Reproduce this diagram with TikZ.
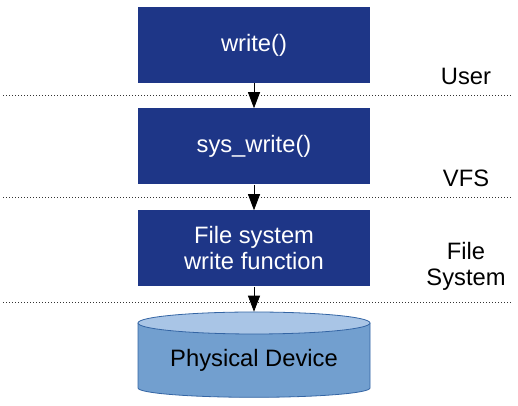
\documentclass[tikz,border=0pt]{standalone}
\usepackage{fontspec}
\setmainfont{Liberation Sans}
\usetikzlibrary{arrows.meta}
\definecolor{boxblue}{RGB}{30,54,135}
\definecolor{devbody}{RGB}{114,159,207}
\definecolor{devtop}{RGB}{169,197,230}
\definecolor{devline}{RGB}{52,101,164}
\tikzset{
  blkbox/.style={fill=boxblue,text=white,minimum width=174pt,minimum height=57pt,align=center,inner sep=0pt},
  layer/.style={black!80,line width=0.7pt,dash pattern=on 1pt off 1.25pt},
  lbl/.style={align=center,inner sep=0pt},
  flow/.style={-{Triangle[length=12pt,width=9pt]},line width=0.6pt}
}
\begin{document}
\begin{tikzpicture}[x=0.75pt,y=0.75pt,font=\fontsize{17.8}{19.5}\selectfont]
\useasboundingbox (0,0) rectangle (518,406);

\node[blkbox] (wr) at (254,361) {write()};
\node[blkbox] (sys) at (254,259.5) {sys\_write()};
\node[blkbox] (fsw) at (254,157.5) {File system\\write function};

% physical device
\fill[devbody] (138,83) -- (138,18) arc (180:360:87pt and 7pt) -- (370,83) -- cycle;
\draw[devline,line width=0.6pt] (138,83) -- (138,18) arc (180:360:87pt and 7pt) -- (370,83);
\draw[devline,fill=devtop,line width=0.6pt] (254,83) ellipse (87pt and 8.25pt);
\node[lbl,minimum width=174pt,minimum height=72pt] (dev) at (254,46) {Physical Device};

% layers
\coordinate (l1a) at (3,311); \coordinate (l1b) at (512,311);
\coordinate (l2a) at (3,209); \coordinate (l2b) at (512,209);
\coordinate (l3a) at (3,104); \coordinate (l3b) at (512,104);
\draw[layer] (l1a) -- (l1b);
\draw[layer] (l2a) -- (l2b);
\draw[layer] (l3a) -- (l3b);

\node[lbl] (usr) at (466,330) {User};
\node[lbl] (vfs) at (466,228) {VFS};
\node[lbl] (fs) at (466,140) {File\\System};

\draw[flow] (wr) -- (sys);
\draw[flow] (sys) -- (fsw);
\draw[flow] (fsw) -- (dev);
\end{tikzpicture}
\end{document}
